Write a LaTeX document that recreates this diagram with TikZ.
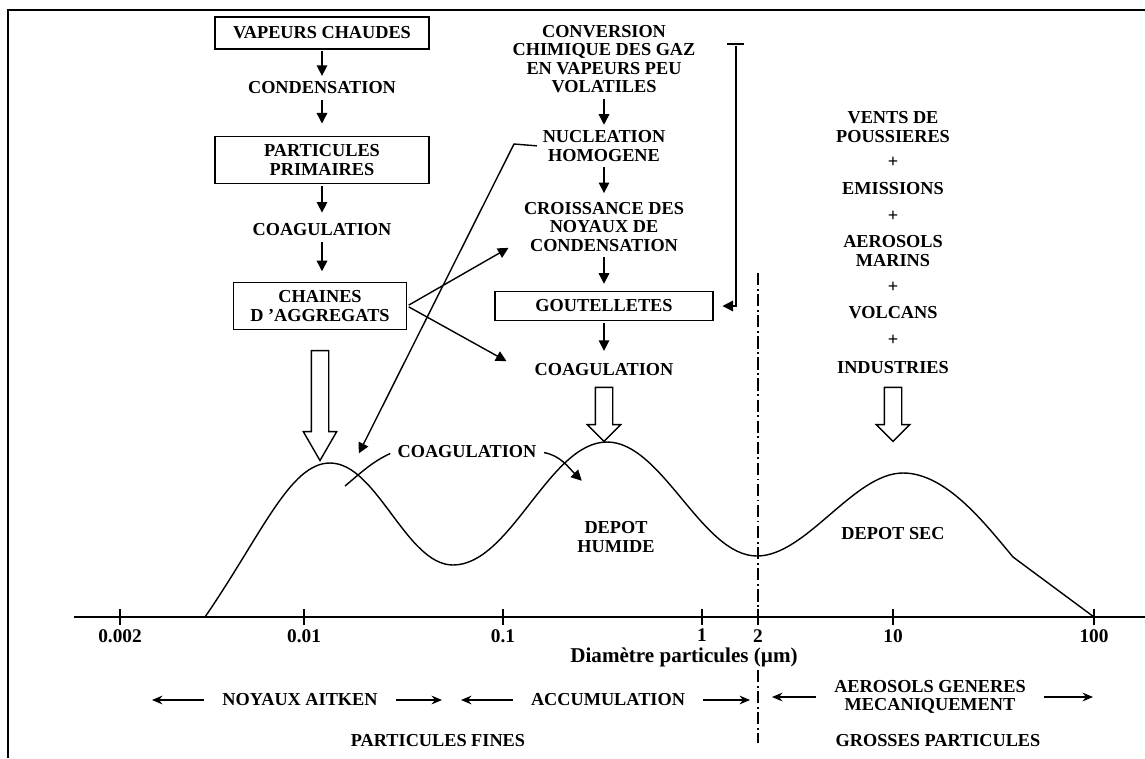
\documentclass[tikz,border=0pt]{standalone}
\usepackage{fontspec}
\setmainfont{Liberation Serif}
\usetikzlibrary{arrows.meta,shapes.arrows}

\begin{document}
\begin{tikzpicture}[x=0.02cm, y=0.02cm, line width=0.8pt,
	txt/.style={align=center, inner sep=2pt, font=\fontsize{10.4}{10.4}\selectfont\bfseries},
	boxed/.style={txt, draw, inner sep=0pt},
	flow/.style={-{Triangle[length=6pt,width=6pt]}, shorten <=1pt, shorten >=1pt},
	sizearrow/.style={-{Stealth[length=6pt,width=5pt,inset=2pt]}, line width=0.6pt, shorten <=8pt},
	hollow/.style={single arrow, draw, shape border rotate=270, inner xsep=0.16cm, inner ysep=0pt,
		minimum width=0.64cm, single arrow head extend=0.16cm},
	split/.style={line width=0.6pt, dash pattern=on 7pt off 2pt on 1pt off 2pt}]
	\useasboundingbox (0,0) rectangle (1145,-758);
	% page border
	\draw (8,-758) -- (8,-10) -- (1145,-10);

	% left column
	\node[boxed, minimum width=4.28cm, minimum height=0.64cm] (vap) at (322,-33) {VAPEURS CHAUDES};
	\node[txt] (cond) at (322,-88) {CONDENSATION};
	\node[boxed, minimum width=4.28cm, minimum height=0.94cm] (prim) at (322,-160) {PARTICULES\\PRIMAIRES};
	\node[txt] (coagA) at (322,-230) {COAGULATION};
	\node[boxed, minimum width=3.46cm, minimum height=0.94cm] (chain) at (320,-306) {CHAINES\\D ’AGGREGATS};
	\draw[flow] (vap) -- (cond);
	\draw[flow, shorten >=7pt] (cond) -- (prim);
	\draw[flow, shorten >=4pt] (prim) -- (coagA);
	\draw[flow, shorten >=6pt] (coagA) -- (coagA |- chain.north);

	% middle column
	\node[txt] (conv) at (604,-59) {CONVERSION\\CHIMIQUE DES GAZ\\EN VAPEURS PEU\\VOLATILES};
	\node[txt] (nucl) at (604,-146) {NUCLEATION\\HOMOGENE};
	\node[txt] (crois) at (604,-227) {CROISSANCE DES\\NOYAUX DE\\CONDENSATION};
	\node[boxed, minimum width=4.36cm, minimum height=0.58cm] (gout) at (604,-306) {GOUTELLETES};
	\node[txt] (coagB) at (604,-370) {COAGULATION};
	\draw[flow] (conv) -- (nucl);
	\draw[flow, shorten >=3pt] (nucl) -- (crois);
	\draw[flow, shorten >=4pt] (crois) -- (gout);
	\draw[flow, shorten >=5pt] (gout) -- (coagB);

	% bracket back to the droplets
	\coordinate (brTop) at (736,-44);
	\draw ([xshift=-0.18cm]brTop) -- ([xshift=0.16cm]brTop);
	\draw[flow, shorten >=5pt] (brTop) |- (gout.east);

	% right column
	\node[txt] (vents) at (893,-127) {VENTS DE\\POUSSIERES};
	\node[txt] (plusA) at (893,-162) {+};
	\node[txt] (emis) at (893,-189) {EMISSIONS};
	\node[txt] (plusB) at (893,-216) {+};
	\node[txt] (mar) at (893,-251) {AEROSOLS\\MARINS};
	\node[txt] (plusC) at (893,-287) {+};
	\node[txt] (volc) at (893,-313) {VOLCANS};
	\node[txt] (plusD) at (893,-340) {+};
	\node[txt] (indu) at (893,-368) {INDUSTRIES};

	% cross arrows
	\coordinate (toCrois) at (510,-247);
	\coordinate (toCoag) at (508,-362);
	\coordinate (nuclBend) at (514,-144);
	\coordinate (nuclTip) at (358,-455);
	\draw[flow] (chain.east) -- (toCrois);
	\draw[flow] (chain.east) -- (toCoag);
	\draw[flow] (nucl.west) -- (nuclBend) -- (nuclTip);

	% hollow arrows onto the modes
	\node[hollow, minimum height=2.2cm, single arrow tip angle=60] (bigA) at (320,-398) {};
	\node[hollow, minimum height=1.08cm] (bigB) at (604,-410) {};
	\node[hollow, minimum height=1.08cm] (bigC) at (893,-410) {};

	% size distribution
	\draw (205,-617) .. controls (262,-534) and (290,-463) .. (330,-463)
		to[out=0, in=180, looseness=0.75] (453,-565)
		to[out=0, in=180, looseness=0.75] (607,-442)
		to[out=0, in=180, looseness=0.75] (757,-556)
		to[out=0, in=180, looseness=0.75] (903,-473)
		to[out=0, in=130, looseness=0.8] (1013,-557) -- (1094,-617);

	\node[txt] (coagC) at (467,-452) {COAGULATION};
	\coordinate (coagLend) at (345,-486);
	\coordinate (coagRtip) at (583,-482);
	\draw[shorten <=2pt] (coagC.west) to[out=205, in=40] (coagLend);
	\draw[flow, shorten <=2pt] (coagC.east) to[out=-10, in=135] (coagRtip);
	\node[txt] (humide) at (616,-537) {DEPOT\\HUMIDE};
	\node[txt] (sec) at (893,-534) {DEPOT SEC};

	% axis
	\draw (74,-617) -- (1145,-617);
	\foreach \px/\lab in {120/0.002, 304/0.01, 503/0.1, 702/1, 758/2, 893/10, 1094/100}
		\draw (\px,-609) -- (\px,-625) node[below, inner sep=2pt, font=\fontsize{11}{13}\selectfont\bfseries] (t\px) {\lab};
	\node[font=\fontsize{12}{14}\selectfont\bfseries] (diam) at (684,-657) {Diamètre particules (µm)};
	\draw[split] (758,-273) -- (758,-617);
	\draw[split] (758,-670) -- (758,-743);

	% size ranges
	\node[txt] (aitken) at (300,-700) {NOYAUX AITKEN};
	\node[txt] (accu) at (608,-700) {ACCUMULATION};
	\node[txt] (meca) at (930,-697) {AEROSOLS GENERES\\MECANIQUEMENT};
	\node[txt] (fines) at (438,-741) {PARTICULES FINES};
	\node[txt] (grosses) at (938,-741) {GROSSES PARTICULES};
	\coordinate (aitkenL) at (152,-700);
	\coordinate (aitkenR) at (442,-700);
	\coordinate (accuL) at (461,-700);
	\coordinate (accuR) at (750,-700);
	\coordinate (mecaL) at (772,-697);
	\coordinate (mecaR) at (1093,-697);
	\draw[sizearrow] (aitken.west) -- (aitkenL);
	\draw[sizearrow] (aitken.east) -- (aitkenR);
	\draw[sizearrow] (accu.west) -- (accuL);
	\draw[sizearrow] (accu.east) -- (accuR);
	\draw[sizearrow] (meca.west) -- (mecaL);
	\draw[sizearrow] (meca.east) -- (mecaR);
\end{tikzpicture}
\end{document}
